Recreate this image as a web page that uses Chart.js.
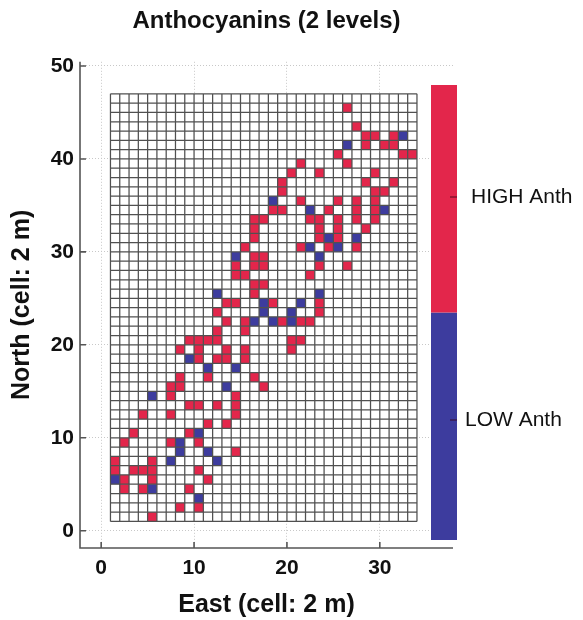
<!DOCTYPE html>
<html>
<head>
<meta charset="utf-8">
<script src="https://cdn.jsdelivr.net/npm/chart.js@4.4.0/dist/chart.umd.min.js"></script>
<style>
  html, body { margin: 0; padding: 0; background: #fff; }
  #wrap { width: 583px; height: 620px; }
</style>
</head>
<body>
<div id="wrap"><canvas id="anth" width="583" height="620"></canvas></div>
<script>
// field grid, cell corners (1 cell = 2 m)
const eastCells = [1, 34];
const northCells = [1, 47];
const eastLimits = [-2.28, 37.88];
const northLimits = [-1.86, 50.45];
const xTicks = [0, 10, 20, 30];
const yTicks = [0, 10, 20, 30, 40, 50];
const levels = ['LOW Anth', 'HIGH Anth'];
const levelColors = ['#3d3c9e', '#e3264b'];

// [east, north] of the lower-left corner of each classified cell
const highAnth = [
  [5,1], [8,2], [10,2], [2,4], [4,4], [9,4], [2,5], [5,5], [11,5],
  [1,6], [3,6], [4,6], [5,6], [10,6], [1,7], [5,7], [14,8],
  [2,9], [7,9], [10,9], [3,10], [9,10], [11,11], [13,11],
  [4,12], [7,12], [14,12], [9,13], [10,13], [12,13], [14,13], [7,14], [14,14],
  [7,15], [8,15], [17,15], [8,16], [11,16], [16,16],
  [10,18], [12,18], [13,18], [15,18], [8,19], [10,19], [13,19], [15,19], [20,19],
  [9,20], [10,20], [11,20], [12,20], [20,20], [21,20], [12,21], [15,21],
  [13,22], [15,22], [19,22], [21,22], [22,22], [12,23], [23,23],
  [13,24], [14,24], [18,24], [23,24], [16,25], [16,26], [17,26],
  [14,27], [15,27], [22,27], [14,28], [16,28], [17,28], [23,28], [26,28],
  [16,29], [17,29], [15,30], [21,30], [24,30], [27,30], [16,31], [23,31], [25,31],
  [16,32], [23,32], [25,32], [28,32],
  [16,33], [17,33], [22,33], [23,33], [25,33], [27,33], [29,33],
  [18,34], [19,34], [24,34], [27,34], [29,34], [21,35], [25,35], [27,35], [29,35],
  [19,36], [29,36], [30,36], [19,37], [28,37], [31,37], [20,38], [23,38], [29,38],
  [21,39], [26,39], [25,40], [32,40], [33,40], [28,41], [30,41], [31,41],
  [28,42], [29,42], [31,42], [27,43], [26,45]
];
const lowAnth = [
  [10,3], [5,4], [1,5], [7,7], [12,7], [8,8], [11,8], [8,9], [10,10],
  [5,14], [13,15], [11,17], [14,17], [9,18],
  [16,22], [18,22], [20,22], [17,23], [20,23], [17,24], [21,24], [12,25], [23,25],
  [14,29], [23,29], [22,30], [25,30], [24,31], [27,31], [22,34], [30,34], [18,35],
  [26,41], [32,42]
];

const toPts = arr => arr.map(([x, y]) => ({x, y}));

// draws every field cell from the x / y scales
const cellGrid = {
  id: 'cellGrid',
  beforeDatasetsDraw(chart) {
    const {ctx, scales: {x, y}} = chart;
    const cell = (cx, cy, fill) => {
      const x0 = x.getPixelForValue(cx), x1 = x.getPixelForValue(cx + 1);
      const y0 = y.getPixelForValue(cy + 1), y1 = y.getPixelForValue(cy);
      ctx.fillStyle = fill;
      ctx.fillRect(x0, y0, x1 - x0, y1 - y0);
    };
    ctx.save();
    for (let cx = eastCells[0]; cx < eastCells[1]; cx++)
      for (let cy = northCells[0]; cy < northCells[1]; cy++) cell(cx, cy, '#ffffff');
    chart.data.datasets.forEach(ds => ds.data.forEach(p => cell(p.x, p.y, ds.backgroundColor)));

    ctx.strokeStyle = '#505050';
    ctx.lineWidth = 1.25;
    ctx.beginPath();
    const yb = y.getPixelForValue(northCells[0]), yt = y.getPixelForValue(northCells[1]);
    const xl = x.getPixelForValue(eastCells[0]), xr = x.getPixelForValue(eastCells[1]);
    for (let cx = eastCells[0]; cx <= eastCells[1]; cx++) {
      const px = x.getPixelForValue(cx);
      ctx.moveTo(px, yb); ctx.lineTo(px, yt);
    }
    for (let cy = northCells[0]; cy <= northCells[1]; cy++) {
      const py = y.getPixelForValue(cy);
      ctx.moveTo(xl, py); ctx.lineTo(xr, py);
    }
    ctx.stroke();
    ctx.restore();
  }
};

// axis lines with inward ticks, plus the two-level colour bar
const frameAndBar = {
  id: 'frameAndBar',
  afterDraw(chart) {
    const {ctx, chartArea: a, scales: {x, y}} = chart;
    ctx.save();
    ctx.strokeStyle = '#555';
    ctx.lineWidth = 1.6;
    ctx.beginPath();
    ctx.moveTo(a.left, a.top); ctx.lineTo(a.left, a.bottom); ctx.lineTo(a.right, a.bottom);
    xTicks.forEach(v => { const px = x.getPixelForValue(v); ctx.moveTo(px, a.bottom); ctx.lineTo(px, a.bottom - 6); });
    yTicks.forEach(v => { const py = y.getPixelForValue(v); ctx.moveTo(a.left, py); ctx.lineTo(a.left + 6, py); });
    ctx.stroke();

    // colour bar
    const barL = 431, barW = 26, barTop = 85, barBot = 540;
    const segH = (barBot - barTop) / levels.length;
    const labelX = [465, 471], labelY = [420, 197];
    levels.forEach((lab, i) => {
      const top = barBot - (i + 1) * segH;
      ctx.fillStyle = levelColors[i];
      ctx.fillRect(barL, top, barW, segH);
      ctx.strokeStyle = 'rgba(60,0,20,0.55)';
      ctx.lineWidth = 1.5;
      ctx.beginPath();
      ctx.moveTo(barL + barW - 7, labelY[i]); ctx.lineTo(barL + barW, labelY[i]);
      ctx.stroke();
      ctx.fillStyle = '#111';
      ctx.font = '21px "Liberation Sans", Arial, sans-serif';
      ctx.textAlign = 'left';
      ctx.textBaseline = 'middle';
      ctx.fillText(lab, labelX[i], labelY[i]);
    });
    ctx.restore();
  }
};

const boldFont = size => ({family: '"Liberation Sans", Arial, sans-serif', size: size, weight: 'bold'});

new Chart(document.getElementById('anth'), {
  type: 'scatter',
  data: {
    datasets: [
      {label: levels[1], data: toPts(highAnth), backgroundColor: levelColors[1], pointRadius: 0, pointHoverRadius: 0},
      {label: levels[0], data: toPts(lowAnth), backgroundColor: levelColors[0], pointRadius: 0, pointHoverRadius: 0}
    ]
  },
  options: {
    responsive: false,
    animation: false,
    events: [],
    layout: {padding: {top: 0, right: 130, bottom: 0, left: 0}},
    plugins: {
      legend: {display: false},
      tooltip: {enabled: false},
      title: {
        display: true,
        text: 'Anthocyanins (2 levels)',
        color: '#111',
        font: boldFont(24),
        fullSize: false,
        padding: {top: 7, bottom: 26}
      }
    },
    scales: {
      x: {
        type: 'linear',
        min: eastLimits[0],
        max: eastLimits[1],
        afterBuildTicks: s => { s.ticks = xTicks.map(v => ({value: v})); },
        afterFit: s => { s.height = 72; },
        grid: {color: '#c8c8c8', lineWidth: 1, drawTicks: false, borderDash: [1, 2]},
        border: {display: false, dash: [1, 2]},
        ticks: {color: '#111', font: boldFont(21), padding: 8, maxRotation: 0},
        title: {display: true, text: 'East (cell: 2 m)', color: '#111', font: boldFont(25), padding: {top: 0, bottom: 0}}
      },
      y: {
        type: 'linear',
        min: northLimits[0],
        max: northLimits[1],
        afterBuildTicks: s => { s.ticks = yTicks.map(v => ({value: v})); },
        afterFit: s => { s.width = 80; },
        grid: {color: '#c8c8c8', lineWidth: 1, drawTicks: false, borderDash: [1, 2]},
        border: {display: false, dash: [1, 2]},
        ticks: {color: '#111', font: boldFont(21), padding: 6},
        title: {display: true, text: 'North (cell: 2 m)', color: '#111', font: boldFont(25), padding: {top: 7, bottom: 0}}
      }
    }
  },
  plugins: [cellGrid, frameAndBar]
});
</script>
</body>
</html>
